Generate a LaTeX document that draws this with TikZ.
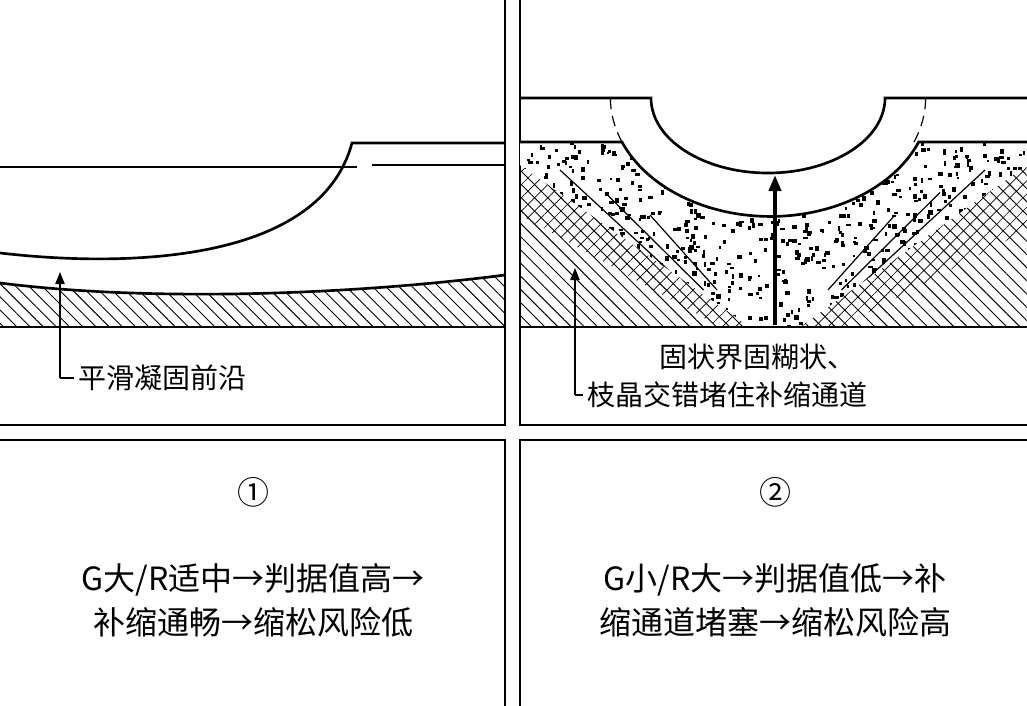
\documentclass[tikz,border=0pt]{standalone}
\usepackage{fontspec}
\setmainfont{Noto Sans CJK SC}
\usetikzlibrary{patterns.meta,arrows.meta,positioning}
\tikzset{
  frame/.style={line width=1.2pt},
  thick line/.style={line width=2pt},
  thin line/.style={line width=0.9pt},
  hatch/.style={pattern={Lines[angle=-45,distance=7pt,line width=0.7pt]}},
  cross/.style={pattern={Lines[angle=45,distance=7pt,line width=0.5pt]}},
  label/.style={font=\fontsize{21pt}{25pt}\selectfont, anchor=west},
  bigtext/.style={font=\fontsize{24pt}{33pt}\selectfont, align=center},
  pointer/.style={-{Triangle[length=9pt,width=7pt]}, line width=0.9pt}
}
\begin{document}
\begin{tikzpicture}[x=0.75pt,y=-0.75pt]
\useasboundingbox (0,0) rectangle (1027,706);
% panel frames
\draw[frame] (505,0) -- (505,425) -- (0,425);
\draw[frame] (1027,425) -- (520,425) -- (520,0);
\draw[frame] (0,440) -- (505,440) -- (505,706);
\draw[frame] (1027,440) -- (520,440) -- (520,706);

% left panel: smooth front
\fill[hatch] (0,283) .. controls (150,302) and (350,295) .. (505,275) -- (505,327) -- (0,327) -- cycle;
\draw[thick line] (0,283) .. controls (150,302) and (350,295) .. (505,275);
\draw[frame] (0,327) -- (505,327);
\draw[thin line] (0,167) -- (357,167);
\draw[thin line] (372,165) -- (505,165);
\draw[thick line] (0,253) .. controls (130,268) and (320,262) .. (352,143) -- (505,143);
\coordinate (smoothtip) at (60,272);
\coordinate (smoothfoot) at (60,378);
\node[label] (smoothlab) at (74,378) {平滑凝固前沿};
\draw[pointer] (smoothfoot) -- (smoothtip);
\draw[thin line] (smoothfoot) -- (smoothlab.west);

% right panel: mushy zone
\fill[hatch] (520,142) -- (622,142) arc[start angle=158,end angle=22,x radius=160,y radius=119] -- (1027,142) -- (1027,327) -- (520,327) -- cycle;
\fill[cross] (520,150) -- (622,142) arc[start angle=158,end angle=22,x radius=160,y radius=119] -- (1027,142) -- (1027,230) -- (840,327) -- (720,327) -- (520,215) -- cycle;
\begin{scope}
  \clip (520,142) -- (622,142) arc[start angle=158,end angle=22,x radius=160,y radius=119] -- (1027,142) -- (1027,165) -- (800,327) -- (750,327) -- (520,165) -- cycle;
  \fill[white] (500,130) rectangle (1040,330);
  \pgfmathsetseed{11}
  \foreach \i in {1,...,900}{
    \pgfmathsetmacro{\dx}{520+507*rnd}
    \pgfmathsetmacro{\dy}{142+185*rnd}
    \fill (\dx,\dy) rectangle ++(2+3*rnd,2+3*rnd);
  }
  % dendrite arms
  \foreach \s in {0,45,90}{
    \draw[thin line] (560+\s,170+\s*0.5) -- (690+\s*0.3,290);
    \draw[thin line] (985-\s,170+\s*0.5) -- (855-\s*0.3,290);
  }
\end{scope}
\draw[thick line] (520,142) -- (622,142) arc[start angle=158,end angle=22,x radius=160,y radius=119] -- (1027,142);
\draw[thin line, dash pattern=on 8pt off 5pt] (622,142) arc[start angle=158,end angle=180,x radius=160,y radius=119];
\draw[thin line, dash pattern=on 8pt off 5pt] (914,142) arc[start angle=22,end angle=0,x radius=160,y radius=119];
\draw[thick line] (520,98) -- (651,98) arc[start angle=180,end angle=0,x radius=117,y radius=75] -- (1027,98);
\draw[frame] (520,327) -- (1027,327);
\coordinate (feedroot) at (775,325);
\coordinate (feedtip) at (775,175);
\draw[-{Triangle[length=12pt,width=9pt]}, line width=3pt] (feedroot) -- (feedtip);
\coordinate (mushtip) at (575,268);
\coordinate (mushfoot) at (575,395);
\node[label] (mushlab2) at (583,395) {枝晶交错堵住补缩通道};
\node[label] (mushlab1) at (655,357) {固状界固糊状、};
\draw[pointer] (mushfoot) -- (mushtip);
\draw[thin line] (mushfoot) -- (mushlab2.west);

% bottom captions
\node[bigtext] (numA) at (253,492) {①};
\node[bigtext] (numB) at (775,492) {②};
\node[bigtext] (textA) at (253,600) {G大/R适中→判据值高→\\补缩通畅→缩松风险低};
\node[bigtext] (textB) at (775,600) {G小/R大→判据值低→补\\缩通道堵塞→缩松风险高};
\end{tikzpicture}
\end{document}
